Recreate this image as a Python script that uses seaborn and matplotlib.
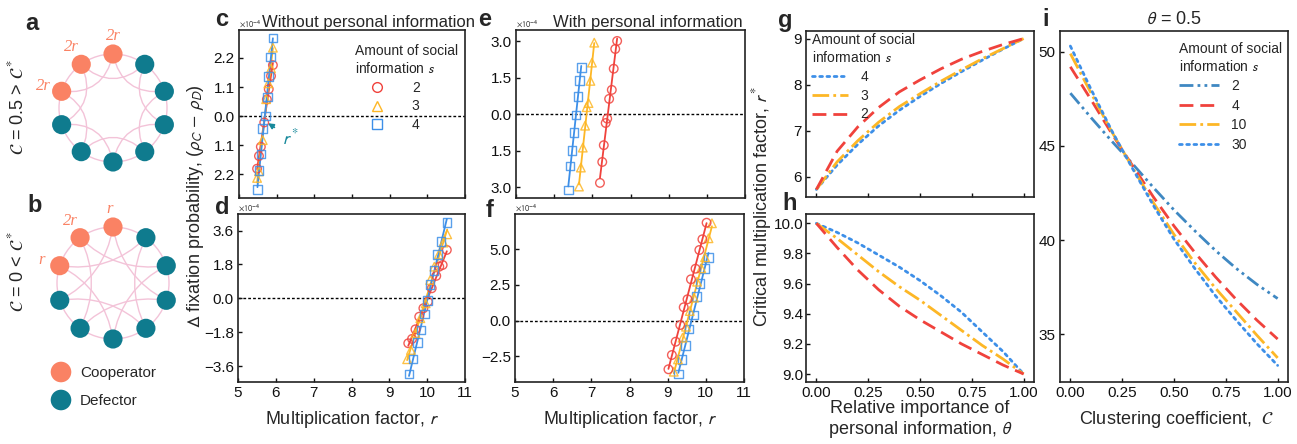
import numpy as np
import pandas as pd
import matplotlib
matplotlib.use("Agg")
import matplotlib.pyplot as plt
import seaborn as sns
from matplotlib.patches import Circle, FancyArrowPatch
from matplotlib.lines import Line2D

# ---------------- data ----------------
# panel c (without personal information, C=0.5)
c_s2_r = [5.48, 5.53, 5.58, 5.67, 5.74, 5.79, 5.85, 5.90]
c_s2_d = [-1.99, -1.51, -1.16, -0.24, 0.63, 1.02, 1.52, 1.93]
c_s3_r = [5.48, 5.53, 5.63, 5.72, 5.78, 5.85, 5.90]
c_s3_d = [-2.34, -2.09, -0.91, 0.64, 1.24, 1.81, 2.59]
c_s4_r = [5.49, 5.53, 5.58, 5.63, 5.71, 5.76, 5.79, 5.83, 5.90]
c_s4_d = [-2.78, -2.05, -1.44, -0.46, 0.0, 0.73, 1.49, 2.23, 2.96]
# panel d (without personal information, C=0)
d_s2_r = [9.50, 9.60, 9.69, 9.79, 9.90, 10.02, 10.12, 10.24, 10.32, 10.41, 10.52]
d_s2_d = [-2.39, -2.16, -1.65, -0.98, -0.53, -0.18, 0.53, 1.19, 1.68, 1.77, 2.57]
d_s3_r = [9.47, 9.57, 9.69, 9.82, 9.96, 10.08, 10.19, 10.31, 10.43, 10.53]
d_s3_d = [-3.24, -2.75, -1.86, -1.06, -0.27, 0.97, 1.68, 2.34, 2.96, 3.40]
d_s4_r = [9.52, 9.62, 9.74, 9.84, 9.93, 10.01, 10.08, 10.18, 10.27, 10.37, 10.52]
d_s4_d = [-4.03, -3.23, -2.36, -1.69, -0.83, -0.13, 0.72, 1.47, 2.34, 3.01, 4.04]
# panel e (with personal information, C=0.5)
e_s2_r = [7.20, 7.26, 7.30, 7.35, 7.39, 7.44, 7.51, 7.56, 7.60, 7.65]
e_s2_d = [-2.82, -1.96, -1.27, -0.36, -0.18, 0.63, 1.00, 1.87, 2.68, 3.01]
e_s3_r = [6.65, 6.70, 6.75, 6.81, 6.85, 6.90, 6.95, 6.99, 7.05]
e_s3_d = [-2.97, -2.19, -1.37, -0.47, 0.29, 0.46, 1.37, 2.12, 2.94]
e_s4_r = [6.37, 6.42, 6.47, 6.52, 6.57, 6.62, 6.67, 6.71]
e_s4_d = [-3.11, -2.12, -1.50, -0.74, -0.03, 0.72, 1.38, 1.92]
# panel f (with personal information, C=0)
f_s2_r = [9.02, 9.11, 9.21, 9.33, 9.42, 9.52, 9.61, 9.73, 9.83, 9.91, 10.02]
f_s2_d = [-3.40, -2.40, -1.47, -0.30, 0.94, 1.50, 2.90, 3.64, 4.95, 5.70, 6.86]
f_s3_r = [9.16, 9.27, 9.39, 9.48, 9.58, 9.69, 9.77, 9.88, 9.98, 10.07, 10.16]
f_s3_d = [-3.57, -2.71, -1.19, -0.42, 0.68, 1.61, 2.73, 3.67, 4.44, 5.77, 6.82]
f_s4_r = [9.28, 9.37, 9.47, 9.56, 9.67, 9.76, 9.85, 9.96, 10.07]
f_s4_d = [-3.73, -2.70, -1.75, -0.58, 0.40, 1.71, 2.59, 3.67, 4.41]

# panels g, h: critical r* vs theta
theta = [0.0, 0.1, 0.2, 0.3, 0.4, 0.5, 0.6, 0.7, 0.8, 0.9, 1.0]
g_s2 = [5.72, 6.55, 7.08, 7.50, 7.84, 8.10, 8.34, 8.55, 8.72, 8.87, 9.00]
g_s3 = [5.72, 6.32, 6.78, 7.18, 7.52, 7.80, 8.07, 8.32, 8.56, 8.78, 9.00]
g_s4 = [5.72, 6.25, 6.70, 7.10, 7.44, 7.74, 8.02, 8.28, 8.53, 8.77, 9.00]
h_s2 = [10.0, 9.84, 9.69, 9.56, 9.45, 9.36, 9.28, 9.20, 9.13, 9.06, 9.00]
h_s3 = [10.0, 9.90, 9.79, 9.68, 9.58, 9.49, 9.39, 9.29, 9.19, 9.10, 9.00]
h_s4 = [10.0, 9.94, 9.87, 9.79, 9.71, 9.62, 9.52, 9.41, 9.28, 9.15, 9.00]

# panel i: r* vs clustering coefficient (theta = 0.5)
clust = [0.0, 0.1, 0.2, 0.3, 0.4, 0.5, 0.6, 0.7, 0.8, 0.9, 1.0]
i_s2 = [47.8, 46.5, 45.25, 44.05, 42.8, 41.6, 40.5, 39.45, 38.5, 37.65, 36.9]
i_s4 = [49.2, 47.45, 45.65, 43.95, 42.3, 40.75, 39.35, 38.05, 36.85, 35.75, 34.75]
i_s10 = [49.9, 47.8, 45.75, 43.85, 42.0, 40.3, 38.8, 37.45, 36.2, 34.95, 33.75]
i_s30 = [50.3, 48.0, 45.8, 43.8, 41.85, 40.05, 38.5, 37.05, 35.75, 34.5, 33.35]

c_ticks = [2.2, 1.1, 0.0, -1.1, -2.2]
c_ticklabels = ["2.2", "1.1", "0.0", "1.1", "2.2"]
d_ticks = [3.6, 1.8, 0.0, -1.8, -3.6]
d_ticklabels = ["3.6", "1.8", "0.0", "\u22121.8", "\u22123.6"]
e_ticks = [3.0, 1.5, 0.0, -1.5, -3.0]
e_ticklabels = ["3.0", "1.5", "0.0", "1.5", "3.0"]
f_ticks = [5.0, 2.5, 0.0, -2.5]
f_ticklabels = ["5.0", "2.5", "0.0", "\u22122.5"]

# ---------------- style ----------------
sns.set_theme(style="ticks")
plt.rcParams["font.family"] = ["Liberation Sans", "DejaVu Sans"]
plt.rcParams["mathtext.fontset"] = "stixsans"

RED = "#f0423c"
YEL = "#fdb726"
BLU = "#3d8fe8"
STEEL = "#3f88c2"
ORANGE = "#fa8264"
TEAL = "#0f7b8e"
PINK = "#f3c3d8"

W, H = 1297, 444
fig = plt.figure(figsize=(W / 100, H / 100), dpi=100)


def add_ax(x0, y0, x1, y1):
    return fig.add_axes([x0 / W, 1 - y1 / H, (x1 - x0) / W, (y1 - y0) / H])


def style(ax):
    for sp in ax.spines.values():
        sp.set_linewidth(1.2)
        sp.set_color("#222222")
    ax.tick_params(direction="in", length=3, width=1, labelsize=11, pad=3, colors="#111111")


# ---------------- panels a, b (networks) ----------------
axn = fig.add_axes([0, 0, 230 / W, 1])
axn.set_xlim(0, 230)
axn.set_ylim(444, 0)
axn.axis("off")


def draw_net(cx, cy, R, offsets, rad, labels):
    k = np.arange(10)
    ang = np.deg2rad(90 + 36 * k)
    xs = cx + R * np.cos(ang)
    ys = cy - R * np.sin(ang)
    axn.add_patch(Circle((cx, cy), R, fill=False, ec=PINK, lw=1.0, zorder=1))
    for off in offsets:
        for i in range(10):
            j = (i + off) % 10
            p = FancyArrowPatch((xs[i], ys[i]), (xs[j], ys[j]),
                                connectionstyle=f"arc3,rad={rad}",
                                arrowstyle="-", color=PINK, lw=1.0,
                                shrinkA=0, shrinkB=0, zorder=1)
            axn.add_patch(p)
    cols = [ORANGE if i in (0, 1, 2) else TEAL for i in range(10)]
    axn.scatter(xs, ys, s=190, c=cols, zorder=3, linewidths=0)
    for (i, txt, dx, dy) in labels:
        axn.text(xs[i] + dx, ys[i] + dy, txt, color=ORANGE, fontsize=12,
                 family="Liberation Serif", style="italic", ha="center", va="center")


draw_net(113, 108, 54, [2], -0.45, [(0, "2r", 0, -18), (1, "2r", -10, -17), (2, "2r", -18, -5)])
draw_net(113, 283, 56, [3], -0.25, [(0, "r", -3, -18), (1, "2r", -10, -17), (2, "r", -18, -6)])

axn.text(17, 107, r"$\mathcal{C}$ = 0.5 > $\mathcal{C}^*$", rotation=90, fontsize=13,
         ha="center", va="center")
axn.text(17, 272, r"$\mathcal{C}$ = 0 < $\mathcal{C}^*$", rotation=90, fontsize=13,
         ha="center", va="center")
axn.scatter([61, 61], [372, 400], s=220, c=[ORANGE, TEAL], linewidths=0)
axn.text(80, 373, "Cooperator", fontsize=11, va="center")
axn.text(80, 401, "Defector", fontsize=11, va="center")

# ---------------- panels c-f ----------------
axc = add_ax(239, 30, 465, 198)
axd = add_ax(238, 214, 465, 382)
axe = add_ax(516, 30, 745, 198)
axf = add_ax(515, 214, 744, 382)


def fix_panel(ax, series, ylim, ticks, ticklabels, xlabels):
    for (rx, dy, col, mk) in series:
        df = pd.DataFrame({"r": rx, "d": dy})
        sns.regplot(data=df, x="r", y="d", ax=ax, ci=None, scatter=False, truncate=True,
                    color=col, line_kws=dict(lw=1.3))
        ax.scatter(rx, dy, marker=mk, s=38, facecolors="none", edgecolors=col,
                   linewidths=1.0, alpha=0.85, zorder=4)
    ax.axhline(0, color="black", lw=1.0, ls=(0, (2, 1.5)), zorder=0)
    ax.set_xlim(5, 11)
    ax.set_ylim(*ylim)
    ax.set_xticks(range(5, 12))
    ax.set_yticks(ticks)
    ax.set_yticklabels(ticklabels)
    if not xlabels:
        ax.set_xticklabels([])
    ax.set_xlabel("")
    ax.set_ylabel("")
    style(ax)
    ax.text(0, 1.008, r"$\times10^{-4}$", transform=ax.transAxes, fontsize=6,
            ha="left", va="bottom")


fix_panel(axc, [(c_s2_r, c_s2_d, RED, "o"), (c_s3_r, c_s3_d, YEL, "^"), (c_s4_r, c_s4_d, BLU, "s")],
          (-3.1, 3.26), c_ticks, c_ticklabels, False)
fix_panel(axd, [(d_s2_r, d_s2_d, RED, "o"), (d_s3_r, d_s3_d, YEL, "^"), (d_s4_r, d_s4_d, BLU, "s")],
          (-4.45, 4.48), d_ticks, d_ticklabels, True)
fix_panel(axe, [(e_s4_r, e_s4_d, BLU, "s"), (e_s3_r, e_s3_d, YEL, "^"), (e_s2_r, e_s2_d, RED, "o")],
          (-3.44, 3.46), e_ticks, e_ticklabels, False)
fix_panel(axf, [(f_s4_r, f_s4_d, BLU, "s"), (f_s3_r, f_s3_d, YEL, "^"), (f_s2_r, f_s2_d, RED, "o")],
          (-4.29, 7.47), f_ticks, f_ticklabels, True)

axc.set_title("Without personal information", fontsize=12, pad=2, x=0.575)
axe.set_title("With personal information", fontsize=12, pad=2, x=0.575)

axc.annotate(r"$r^*$", xy=(5.77, -0.27), xytext=(6.38, -0.83), color="#17899b", fontsize=13,
             ha="center", va="center",
             arrowprops=dict(arrowstyle="-|>", color="#17899b", lw=1.2, mutation_scale=8,
                             shrinkA=4, shrinkB=0))

hand_c = [Line2D([], [], ls="none", marker=m, mfc="none", mec=c, ms=7, mew=1.0)
          for m, c in (("o", RED), ("^", YEL), ("s", BLU))]
axc.legend(hand_c, ["2", "3", "4"], title="Amount of social\ninformation $s$",
           loc="upper left", bbox_to_anchor=(0.513, 0.915), frameon=False, fontsize=10,
           title_fontsize=10, handlelength=3.2, handletextpad=0.9, borderpad=0,
           borderaxespad=0, labelspacing=0.35, alignment="left")

fig.text(195 / W, 1 - 206 / H, r"$\Delta$ fixation probability, ($\rho_C$ $-$ $\rho_D$)",
         rotation=90, fontsize=13, ha="center", va="center")
fig.text(352 / W, 1 - 419 / H, "Multiplication factor, $r$", fontsize=13, ha="center", va="center")
fig.text(630 / W, 1 - 419 / H, "Multiplication factor, $r$", fontsize=13, ha="center", va="center")

# ---------------- panels g, h ----------------
axg = add_ax(806, 31, 1034, 197)
axh = add_ax(806, 214, 1034, 382)

axg.plot(theta, g_s4, color=BLU, lw=2, ls=(0, (1, 1.6)), label="4", dash_capstyle="round")
axg.plot(theta, g_s3, color=YEL, lw=2, ls=(0, (6, 1.5, 1, 1.5)), label="3")
axg.plot(theta, g_s2, color=RED, lw=2, ls=(0, (5, 2.5)), label="2")
axh.plot(theta, h_s4, color=BLU, lw=2, ls=(0, (1, 1.6)), dash_capstyle="round")
axh.plot(theta, h_s3, color=YEL, lw=2, ls=(0, (6, 1.5, 1, 1.5)))
axh.plot(theta, h_s2, color=RED, lw=2, ls=(0, (5, 2.5)))
for ax in (axg, axh):
    ax.set_xlim(-0.05, 1.05)
    ax.set_xticks([0, 0.25, 0.5, 0.75, 1.0])
    style(ax)
axg.set_xticklabels([])
axh.set_xticklabels(["0.00", "0.25", "0.50", "0.75", "1.00"])
axg.set_ylim(5.556, 9.164)
axg.set_yticks([6, 7, 8, 9])
axh.set_ylim(8.947, 10.062)
axh.set_yticks([9.0, 9.2, 9.4, 9.6, 9.8, 10.0])
axh.set_yticklabels(["9.0", "9.2", "9.4", "9.6", "9.8", "10.0"])
axh.tick_params(axis="y", pad=2)
axg.legend(title="Amount of social\ninformation $s$", loc="upper left",
           bbox_to_anchor=(0.026, 0.985), frameon=False, fontsize=10, title_fontsize=10,
           handlelength=2.6, handletextpad=0.9, borderpad=0, borderaxespad=0,
           labelspacing=0.35, alignment="left")
fig.text(762 / W, 1 - 206 / H, "Critical multiplication factor, $r^*$", rotation=90,
         fontsize=13, ha="center", va="center")
fig.text(920 / W, 1 - 420 / H, "Relative importance of\npersonal information, $\\theta$",
         fontsize=13, ha="center", va="center", linespacing=1.15)

# ---------------- panel i ----------------
axi = add_ax(1060, 31, 1288, 382)
axi.plot(clust, i_s2, color=STEEL, lw=2, ls=(0, (5, 1.5, 1, 1.5, 1, 1.5)), label="2")
axi.plot(clust, i_s4, color=RED, lw=2, ls=(0, (5, 2.5)), label="4")
axi.plot(clust, i_s10, color=YEL, lw=2, ls=(0, (6, 1.5, 1, 1.5)), label="10")
axi.plot(clust, i_s30, color=BLU, lw=2, ls=(0, (1, 1.6)), label="30", dash_capstyle="round")
axi.set_xlim(-0.05, 1.05)
axi.set_ylim(32.47, 51.1)
axi.set_xticks([0, 0.25, 0.5, 0.75, 1.0])
axi.set_xticklabels(["0.00", "0.25", "0.50", "0.75", "1.00"])
axi.set_yticks([35, 40, 45, 50])
style(axi)
axi.set_title(r"$\theta$ = 0.5", fontsize=13, pad=5)
axi.legend(title="Amount of social\ninformation $s$", loc="upper left",
           bbox_to_anchor=(0.52, 0.968), frameon=False, fontsize=10, title_fontsize=10,
           handlelength=2.9, handletextpad=0.9, borderpad=0, borderaxespad=0,
           labelspacing=0.4, alignment="left")
fig.text(1176 / W, 1 - 419 / H, r"Clustering coefficient,  $\mathcal{C}$", fontsize=13,
         ha="center", va="center")

# ---------------- panel letters ----------------
for (lx, ly, lt) in [(32, 23, "a"), (35, 205, "b"), (222, 20, "c"), (222, 207, "d"),
                     (485, 19, "e"), (490, 210, "f"), (785, 21, "g"), (790, 204, "h"),
                     (1046, 20, "i")]:
    fig.text(lx / W, 1 - ly / H, lt, fontsize=17, fontweight="bold", ha="center", va="center")

fig.savefig("out.png", dpi=100)
